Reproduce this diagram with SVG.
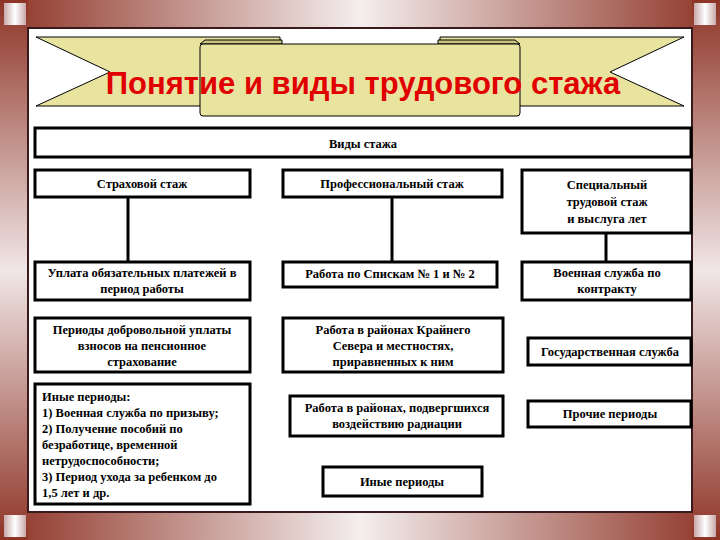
<svg xmlns="http://www.w3.org/2000/svg" width="720" height="540" viewBox="0 0 720 540">
<defs>
<linearGradient id="gh" x1="0" y1="0" x2="1" y2="0"><stop offset="0" stop-color="#8e3426"/><stop offset="0.5" stop-color="#f4eeee"/><stop offset="1" stop-color="#8e3426"/></linearGradient>
<linearGradient id="gv" x1="0" y1="0" x2="0" y2="1"><stop offset="0" stop-color="#8e3426"/><stop offset="0.5" stop-color="#f0e6e6"/><stop offset="1" stop-color="#8e3426"/></linearGradient>
<linearGradient id="gc" x1="0" y1="0" x2="1" y2="0"><stop offset="0" stop-color="#c8a8a8"/><stop offset="0.5" stop-color="#ffffff"/><stop offset="1" stop-color="#c8a8a8"/></linearGradient>
</defs>
<style>
.b{fill:#fff;stroke:#000;stroke-width:3}
.t{font-family:"Liberation Serif",serif;font-weight:bold;font-size:12.5px;text-anchor:middle;fill:#000}
.tl{font-family:"Liberation Serif",serif;font-weight:bold;font-size:12.5px;fill:#000}
.c{stroke:#000;stroke-width:3;fill:none}
.r{fill:#e8e4a0;stroke:#000;stroke-width:1}
</style>
<rect width="720" height="540" fill="#fff"/>
<g id="frame">
<rect x="0" y="0" width="720" height="28" fill="url(#gh)"/>
<rect x="0" y="512" width="720" height="28" fill="url(#gh)"/>
<rect x="0" y="0" width="28" height="540" fill="url(#gv)"/>
<rect x="692" y="0" width="28" height="540" fill="url(#gv)"/>
<rect x="4" y="3" width="22" height="22" fill="url(#gc)"/>
<rect x="694" y="3" width="22" height="22" fill="url(#gc)"/>
<rect x="4" y="515" width="22" height="22" fill="url(#gc)"/>
<rect x="694" y="515" width="22" height="22" fill="url(#gc)"/>
<rect x="28" y="28" width="664" height="484" fill="none" stroke="#3a1a1a" stroke-width="2"/>
</g>
<g id="banner">
<polygon class="r" points="36,37 280,37 280,106 36,106 110,72"/>
<polygon class="r" points="684,37 440,37 440,106 684,106 610,72"/>
<polygon points="200,44 205,40 282,40 282,44" fill="#c8c480" stroke="#000" stroke-width="1"/>
<polygon points="520,44 515,40 438,40 438,44" fill="#c8c480" stroke="#000" stroke-width="1"/>
<rect class="r" x="200" y="44" width="320" height="72" rx="3"/>
<text x="363" y="94" font-family="Liberation Sans,Arial,sans-serif" font-weight="bold" font-size="31" fill="#e00000" text-anchor="middle">Понятие и виды трудового стажа</text>
</g>
<g id="connectors">
<line class="c" x1="128" y1="197" x2="128" y2="262"/>
<line class="c" x1="392" y1="197" x2="392" y2="262"/>
<line class="c" x1="606" y1="233" x2="606" y2="262"/>
</g>
<g id="top"><rect class="b" x="35" y="128" width="656" height="29"/><text class="t" x="363" y="148">Виды стажа</text></g>
<g id="n1"><rect class="b" x="35" y="170" width="215" height="27"/><text class="t" x="142" y="188">Страховой стаж</text></g>
<g id="n2"><rect class="b" x="283" y="170" width="219" height="27"/><text class="t" x="392" y="188">Профессиональный стаж</text></g>
<g id="n3"><rect class="b" x="522" y="170" width="169" height="63"/><text class="t" x="607" y="189">Специальный</text><text class="t" x="607" y="206">трудовой стаж</text><text class="t" x="607" y="223">и выслуга лет</text></g>
<g id="n4"><rect class="b" x="35" y="262" width="215" height="38"/><text class="t" x="142" y="277">Уплата обязательных платежей в</text><text class="t" x="142" y="293">период работы</text></g>
<g id="n5"><rect class="b" x="283" y="262" width="214" height="25"/><text class="t" x="390" y="278">Работа по Спискам № 1 и № 2</text></g>
<g id="n6"><rect class="b" x="522" y="262" width="169" height="38"/><text class="t" x="607" y="277">Военная служба по</text><text class="t" x="607" y="293">контракту</text></g>
<g id="n7"><rect class="b" x="35" y="318" width="215" height="54"/><text class="t" x="142" y="334">Периоды добровольной уплаты</text><text class="t" x="142" y="350">взносов на пенсионное</text><text class="t" x="142" y="366">страхование</text></g>
<g id="n8"><rect class="b" x="283" y="318" width="220" height="54"/><text class="t" x="393" y="334">Работа в районах Крайнего</text><text class="t" x="393" y="350">Севера и местностях,</text><text class="t" x="393" y="366">приравненных к ним</text></g>
<g id="n9"><rect class="b" x="528" y="338" width="163" height="27"/><text class="t" x="610" y="356">Государственная служба</text></g>
<g id="n10"><rect class="b" x="35" y="384" width="215" height="120"/>
<text class="tl" x="42" y="401">Иные периоды:</text>
<text class="tl" x="42" y="417">1) Военная служба по призыву;</text>
<text class="tl" x="42" y="433">2) Получение пособий по</text>
<text class="tl" x="42" y="449">безработице, временной</text>
<text class="tl" x="42" y="465">нетрудоспособности;</text>
<text class="tl" x="42" y="481">3) Период ухода за ребенком до</text>
<text class="tl" x="42" y="497">1,5 лет и др.</text></g>
<g id="n11"><rect class="b" x="290" y="396" width="213" height="40"/><text class="t" x="397" y="412">Работа в районах, подвергшихся</text><text class="t" x="397" y="428">воздействию радиации</text></g>
<g id="n12"><rect class="b" x="528" y="401" width="163" height="26"/><text class="t" x="610" y="418">Прочие периоды</text></g>
<g id="n13"><rect class="b" x="323" y="467" width="159" height="29"/><text class="t" x="402" y="486">Иные периоды</text></g>
</svg>
